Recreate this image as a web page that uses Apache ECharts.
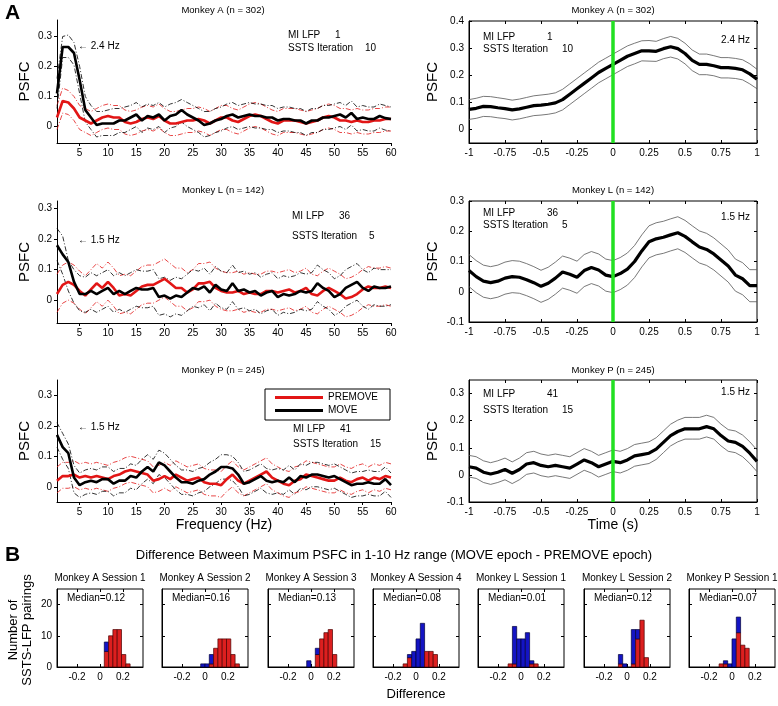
<!DOCTYPE html>
<html>
<head>
<meta charset="utf-8">
<script src="https://cdn.jsdelivr.net/npm/echarts@6/dist/echarts.min.js"></script>
<style>
  html, body { margin: 0; background: #fff; }
  #chart { width: 778px; height: 706px; }
</style>
</head>
<body>
<div id="chart"></div>
<script>
const FONT = 'Liberation Sans, Arial, Helvetica, sans-serif'

// ---- data -----------------------------------------------------------------
// frequency axis (Hz), left column
const freq = [1,2,3,4,5,6,7,8,9,10,11,12,13,14,15,16,17,18,19,20,21,22,23,24,25,26,27,28,29,30,
  31,32,33,34,35,36,37,38,39,40,41,42,43,44,45,46,47,48,49,50,51,52,53,54,55,56,57,58,59,60]
// time axis (s), right column
const time = [-1,-0.95,-0.9,-0.85,-0.8,-0.75,-0.7,-0.65,-0.6,-0.55,-0.5,-0.45,-0.4,-0.35,-0.3,-0.25,
  -0.2,-0.15,-0.1,-0.05,0,0.05,0.1,0.15,0.2,0.25,0.3,0.35,0.4,0.45,0.5,0.55,0.6,0.65,0.7,0.75,0.8,
  0.85,0.9,0.95,1]

const freqTicks = [5,10,15,20,25,30,35,40,45,50,55,60]
const psfcTicks = [0,0.1,0.2,0.3]
const timeTicks = [-1,-0.75,-0.5,-0.25,0,0.25,0.5,0.75,1]
const timeTicksA = [0,0.1,0.2,0.3,0.4]
const timeTicksLP = [-0.1,0,0.1,0.2,0.3]
const histXTicks = [-0.2,0,0.2]
const histYTicks = [0,10,20]

// Monkey A, spectrum
const aMove = [0.11,0.265,0.265,0.245,0.155,0.055,0.03,0.005,0.01,0.01,0.01,0.02,0.02,0.03,0.04,0.02,0.035,0.03,0.04,0.02,
  0.035,0.04,0.055,0.04,0.03,0.02,0.005,0.01,0.02,0.025,0.035,0.04,0.03,0.035,0.04,0.035,0.035,0.03,0.03,0.02,
  0.025,0.025,0.02,0.02,0.01,0.02,0.02,0.03,0.03,0.035,0.04,0.03,0.045,0.025,0.03,0.025,0.025,0.035,0.028,0.025]
const aMoveHi = [0.16,0.3,0.305,0.28,0.2,0.1,0.07,0.05,0.05,0.055,0.06,0.06,0.065,0.07,0.08,0.065,0.075,0.07,0.08,0.065,
  0.075,0.08,0.09,0.08,0.07,0.06,0.05,0.05,0.06,0.065,0.075,0.08,0.07,0.075,0.08,0.075,0.075,0.07,0.07,0.06,
  0.065,0.065,0.06,0.06,0.05,0.06,0.06,0.07,0.07,0.075,0.08,0.07,0.085,0.065,0.07,0.065,0.065,0.075,0.07,0.065]
const aMoveLo = [0.06,0.23,0.23,0.205,0.11,0.015,-0.01,-0.035,-0.03,-0.03,-0.03,-0.02,-0.02,-0.01,0,-0.02,-0.005,-0.01,0,-0.02,
  -0.005,0,0.015,0,-0.01,-0.02,-0.035,-0.03,-0.02,-0.015,-0.005,0,-0.01,-0.005,0,-0.005,-0.005,-0.01,-0.01,-0.02,
  -0.015,-0.015,-0.02,-0.02,-0.03,-0.02,-0.02,-0.01,-0.01,-0.005,0,-0.01,0.005,-0.015,-0.01,-0.015,-0.015,-0.005,-0.012,-0.015]
const aPre = [0.03,0.085,0.08,0.06,0.03,0.02,0.01,0.02,0.03,0.035,0.03,0.03,0.015,0.01,0.015,0.025,0.03,0.025,0.035,0.02,
  0.01,0.01,0.015,0.02,0.02,0.025,0.02,0.01,0.02,0.03,0.03,0.02,0.015,0.025,0.035,0.04,0.035,0.025,0.015,0.01,
  0.02,0.02,0.02,0.015,0.01,0.015,0.02,0.03,0.035,0.03,0.02,0.02,0.015,0.02,0.015,0.015,0.02,0.02,0.025,0.025]
const aPreHi = [0.07,0.128,0.12,0.1,0.07,0.06,0.05,0.06,0.07,0.075,0.07,0.07,0.055,0.05,0.055,0.065,0.07,0.065,0.075,0.06,
  0.05,0.05,0.055,0.06,0.06,0.065,0.06,0.05,0.06,0.07,0.07,0.06,0.055,0.065,0.075,0.08,0.075,0.065,0.055,0.05,
  0.06,0.06,0.06,0.055,0.05,0.055,0.06,0.07,0.075,0.07,0.06,0.06,0.055,0.06,0.055,0.055,0.06,0.06,0.065,0.065]
const aPreLo = [-0.01,0.045,0.04,0.02,-0.01,-0.02,-0.03,-0.02,-0.01,-0.005,-0.01,-0.01,-0.025,-0.03,-0.025,-0.015,-0.01,-0.015,-0.005,-0.02,
  -0.03,-0.03,-0.025,-0.02,-0.02,-0.015,-0.02,-0.03,-0.02,-0.01,-0.01,-0.02,-0.025,-0.015,-0.005,0,-0.005,-0.015,-0.025,-0.03,
  -0.02,-0.02,-0.02,-0.025,-0.03,-0.025,-0.02,-0.01,-0.005,-0.01,-0.02,-0.02,-0.025,-0.02,-0.025,-0.025,-0.02,-0.02,-0.015,-0.015]

// Monkey L, spectrum
const lMove = [0.18,0.15,0.125,0.06,0.02,0.02,0.03,0.02,0.03,0.04,0.02,0.03,0.02,0.03,0.04,0.035,0.035,0.04,0.01,0.015,
  0.005,0.015,0.01,0.025,0.04,0.035,0.045,0.025,0.05,0.035,0.03,0.055,0.03,0.035,0.025,0.03,0.015,0.025,0.03,0.01,
  0.02,0.015,0.02,0.03,0.025,0.03,0.055,0.04,0.03,0.01,0.02,0.04,0.05,0.06,0.04,0.03,0.045,0.04,0.04,0.045]
const lMoveHi = [0.235,0.21,0.13,0.1,0.08,0.075,0.09,0.08,0.09,0.1,0.08,0.09,0.08,0.09,0.1,0.095,0.095,0.1,0.07,0.075,
  0.065,0.075,0.07,0.085,0.1,0.095,0.105,0.085,0.11,0.095,0.09,0.115,0.09,0.095,0.085,0.09,0.075,0.085,0.09,0.07,
  0.08,0.075,0.08,0.09,0.085,0.09,0.115,0.1,0.09,0.07,0.08,0.1,0.11,0.12,0.1,0.09,0.105,0.1,0.1,0.1]
const lMoveLo = [0.13,0.085,0.03,-0.01,-0.035,-0.04,-0.03,-0.04,-0.03,-0.02,-0.04,-0.03,-0.04,-0.03,-0.02,-0.025,-0.025,-0.02,-0.05,-0.045,
  -0.055,-0.045,-0.05,-0.035,-0.02,-0.025,-0.015,-0.035,-0.01,-0.025,-0.03,-0.005,-0.03,-0.025,-0.035,-0.03,-0.045,-0.035,-0.03,-0.05,
  -0.04,-0.045,-0.04,-0.03,-0.035,-0.03,-0.005,-0.02,-0.03,-0.05,-0.04,-0.02,-0.01,0,-0.02,-0.03,-0.015,-0.02,-0.02,-0.015]
const lPre = [0.02,0.05,0.06,0.05,0.03,0.015,0.035,0.055,0.04,0.06,0.04,0.015,0.02,0.015,0.03,0.045,0.05,0.05,0.06,0.07,
  0.055,0.04,0.04,0.025,0.035,0.055,0.055,0.06,0.04,0.03,0.025,0.025,0.03,0.02,0.025,0.02,0.02,0.03,0.03,0.025,
  0.03,0.035,0.025,0.03,0.04,0.02,0.015,0.03,0.04,0.03,0.02,0.005,0.01,0.02,0.035,0.045,0.04,0.04,0.045,0.04]
const lPreHi = [0.085,0.115,0.125,0.115,0.095,0.08,0.1,0.12,0.105,0.125,0.105,0.08,0.085,0.08,0.095,0.11,0.115,0.115,0.125,0.135,
  0.12,0.105,0.105,0.09,0.1,0.12,0.12,0.125,0.105,0.095,0.09,0.09,0.095,0.085,0.09,0.085,0.085,0.095,0.095,0.09,
  0.095,0.1,0.09,0.095,0.105,0.085,0.08,0.095,0.105,0.095,0.085,0.07,0.075,0.085,0.1,0.11,0.105,0.105,0.11,0.105]
const lPreLo = [-0.04,-0.01,0,-0.01,-0.03,-0.045,-0.025,-0.005,-0.02,0,-0.02,-0.045,-0.04,-0.045,-0.03,-0.015,-0.01,-0.01,0,0.01,
  -0.005,-0.02,-0.02,-0.035,-0.025,-0.005,-0.005,0,-0.02,-0.03,-0.035,-0.035,-0.03,-0.04,-0.035,-0.04,-0.04,-0.03,-0.03,-0.035,
  -0.03,-0.025,-0.035,-0.03,-0.02,-0.04,-0.045,-0.03,-0.02,-0.03,-0.04,-0.055,-0.05,-0.04,-0.025,-0.015,-0.02,-0.02,-0.015,-0.02]

// Monkey P, spectrum
const pMove = [0.17,0.13,0.11,0.03,0.005,0.015,0.02,0.015,0.025,0.025,0.01,0.02,0.02,0.035,0.03,0.05,0.065,0.05,0.08,0.07,
  0.05,0.03,0.015,0.015,0.01,0.02,0.025,0.04,0.05,0.065,0.065,0.06,0.04,0.01,0.015,0.025,0.035,0.02,0.015,0.02,
  0.015,0.03,0.015,0.035,0.03,0.04,0.04,0.035,0.03,0.035,0.025,0.015,0.005,0.01,0.01,0.015,0.01,0.01,0.025,0.005]
const pMoveHi = [0.21,0.175,0.14,0.07,0.045,0.055,0.06,0.055,0.065,0.065,0.05,0.06,0.06,0.075,0.07,0.09,0.105,0.09,0.12,0.11,
  0.09,0.07,0.055,0.055,0.05,0.06,0.065,0.08,0.09,0.105,0.105,0.1,0.08,0.05,0.055,0.065,0.075,0.06,0.055,0.06,
  0.055,0.07,0.055,0.075,0.07,0.08,0.08,0.075,0.07,0.075,0.065,0.055,0.045,0.05,0.05,0.055,0.05,0.05,0.065,0.045]
const pMoveLo = [0.13,0.09,0.06,-0.02,-0.035,-0.025,-0.02,-0.025,-0.015,-0.015,-0.03,-0.02,-0.02,-0.005,-0.01,0.01,0.025,0.01,0.04,0.03,
  0.01,-0.01,-0.025,-0.025,-0.03,-0.02,-0.015,0,0.01,0.025,0.025,0.02,0,-0.03,-0.025,-0.015,-0.005,-0.02,-0.025,-0.02,
  -0.025,-0.01,-0.025,-0.005,-0.01,0,0,-0.005,-0.01,-0.005,-0.015,-0.025,-0.035,-0.03,-0.03,-0.025,-0.03,-0.03,-0.015,-0.035]
const pPre = [0.02,0.035,0.035,0.04,0.03,0.035,0.03,0.035,0.03,0.025,0.035,0.04,0.05,0.055,0.05,0.045,0.04,0.02,0.025,0.035,
  0.025,0.04,0.03,0.02,0.025,0.03,0.015,0.01,0.01,0.005,0.025,0.04,0.02,0.01,0.02,0.03,0.04,0.05,0.03,0.02,
  0.01,0.005,0.02,0.025,0.04,0.035,0.03,0.025,0.02,0.02,0.03,0.02,0.015,0.025,0.03,0.02,0.03,0.025,0.035,0.03]
const pPreHi = [0.065,0.08,0.08,0.085,0.075,0.08,0.075,0.08,0.075,0.07,0.08,0.085,0.095,0.1,0.095,0.09,0.085,0.065,0.07,0.08,
  0.07,0.085,0.075,0.065,0.07,0.075,0.06,0.055,0.055,0.05,0.07,0.085,0.065,0.055,0.065,0.075,0.085,0.095,0.075,0.065,
  0.055,0.05,0.065,0.07,0.085,0.08,0.075,0.07,0.065,0.065,0.075,0.065,0.06,0.07,0.075,0.065,0.075,0.07,0.08,0.075]
const pPreLo = [-0.02,-0.005,-0.005,0,-0.01,-0.005,-0.01,-0.005,-0.01,-0.015,-0.005,0,0.01,0.015,0.01,0.005,0,-0.02,-0.015,-0.005,
  -0.015,0,-0.01,-0.02,-0.015,-0.01,-0.025,-0.03,-0.03,-0.035,-0.015,0,-0.02,-0.03,-0.02,-0.01,0,0.01,-0.01,-0.02,
  -0.03,-0.035,-0.02,-0.015,0,-0.005,-0.01,-0.015,-0.02,-0.02,-0.01,-0.02,-0.025,-0.015,-0.01,-0.02,-0.01,-0.015,-0.005,-0.01]

// time courses (right column)
const rA = [0.074,0.078,0.085,0.084,0.08,0.077,0.072,0.076,0.082,0.088,0.09,0.093,0.098,0.11,0.13,0.15,0.17,0.19,0.21,0.225,
  0.24,0.255,0.27,0.28,0.29,0.29,0.288,0.298,0.305,0.298,0.28,0.255,0.24,0.24,0.235,0.228,0.228,0.225,0.22,0.205,0.185]
const rAHi = [0.11,0.115,0.122,0.121,0.117,0.113,0.108,0.112,0.118,0.124,0.127,0.13,0.135,0.148,0.168,0.188,0.208,0.228,0.248,0.263,
  0.278,0.293,0.308,0.318,0.327,0.328,0.325,0.335,0.343,0.336,0.318,0.293,0.278,0.278,0.272,0.265,0.265,0.262,0.257,0.242,0.222]
const rALo = [0.037,0.041,0.048,0.047,0.043,0.04,0.035,0.039,0.045,0.051,0.053,0.056,0.061,0.072,0.092,0.112,0.132,0.152,0.172,0.187,
  0.202,0.217,0.232,0.242,0.253,0.252,0.251,0.261,0.267,0.26,0.242,0.217,0.202,0.202,0.198,0.19,0.19,0.188,0.183,0.168,0.15]
const rL = [0.07,0.05,0.035,0.03,0.035,0.045,0.05,0.048,0.04,0.03,0.018,0.028,0.045,0.065,0.058,0.048,0.07,0.08,0.072,0.055,
  0.05,0.06,0.075,0.1,0.135,0.165,0.175,0.18,0.188,0.195,0.183,0.165,0.148,0.14,0.125,0.105,0.085,0.055,0.043,0.02,0.02]
const rLHi = [0.123,0.103,0.088,0.083,0.088,0.098,0.103,0.101,0.093,0.083,0.071,0.081,0.098,0.118,0.111,0.101,0.123,0.133,0.125,0.108,
  0.103,0.113,0.128,0.153,0.188,0.218,0.228,0.233,0.241,0.248,0.236,0.218,0.201,0.193,0.178,0.158,0.138,0.108,0.096,0.073,0.073]
const rLLo = [0.017,-0.003,-0.018,-0.023,-0.018,-0.008,-0.003,-0.005,-0.013,-0.023,-0.035,-0.025,-0.008,0.012,0.005,-0.005,0.017,0.027,0.019,0.002,
  -0.003,0.007,0.022,0.047,0.082,0.112,0.122,0.127,0.135,0.142,0.13,0.112,0.095,0.087,0.072,0.052,0.032,0.002,-0.01,-0.033,-0.033]
const rP = [0.03,0.025,0.01,0.003,0.01,0.02,0.006,0.02,0.04,0.045,0.035,0.03,0.035,0.03,0.025,0.04,0.055,0.045,0.03,0.04,
  0.05,0.045,0.055,0.07,0.075,0.08,0.095,0.12,0.145,0.16,0.17,0.17,0.17,0.178,0.17,0.145,0.125,0.12,0.105,0.08,0.05]
const rPHi = [0.072,0.067,0.052,0.045,0.052,0.062,0.048,0.062,0.082,0.087,0.077,0.072,0.077,0.072,0.067,0.082,0.097,0.087,0.072,0.082,
  0.092,0.087,0.097,0.112,0.117,0.122,0.137,0.162,0.187,0.202,0.212,0.212,0.212,0.22,0.212,0.187,0.167,0.162,0.147,0.122,0.092]
const rPLo = [-0.008,-0.013,-0.028,-0.035,-0.028,-0.018,-0.032,-0.018,0.002,0.007,-0.003,-0.008,-0.003,-0.008,-0.013,0.002,0.017,0.007,-0.008,0.002,
  0.012,0.007,0.017,0.032,0.037,0.042,0.057,0.082,0.107,0.122,0.132,0.132,0.132,0.14,0.132,0.107,0.087,0.082,0.067,0.042,0.012]

// histograms: [bin start, red (significant) count, blue count]
const binWidth = 0.0375
const histTitles = ['Monkey A Session 1','Monkey A Session 2','Monkey A Session 3','Monkey A Session 4',
  'Monkey L Session 1','Monkey L Session 2','Monkey P Session 1']
const histMedians = ['0.12','0.16','0.13','0.08','0.01','0.12','0.07']
const histA1 = [[0.0375,5,3],[0.075,10,0],[0.1125,12,0],[0.15,12,0],[0.1875,4,0],[0.225,1,0]]
const histA2 = [[-0.0375,0,1],[0,0,1],[0.0375,1,3],[0.075,6,0],[0.1125,9,0],[0.15,9,0],[0.1875,9,0],[0.225,4,0],[0.2625,1,0]]
const histA3 = [[-0.0375,0,2],[0.0375,4,2],[0.075,9,0],[0.1125,11,0],[0.15,12,0],[0.1875,4,0]]
const histA4 = [[-0.1125,1,0],[-0.075,3,1],[-0.0375,0,5],[0,0,9],[0.0375,0,14],[0.075,5,0],[0.1125,5,0],[0.15,4,0]]
const histL1 = [[-0.1125,1,0],[-0.075,1,12],[-0.0375,0,9],[0,0,9],[0.0375,0,11],[0.075,1,1],[0.1125,1,0]]
const histL2 = [[-0.075,1,3],[-0.0375,0,1],[0.0375,1,11],[0.075,9,3],[0.1125,15,0],[0.15,3,0]]
const histP1 = [[-0.1125,1,0],[-0.075,1,1],[-0.0375,0,1],[0,0,9],[0.0375,11,5],[0.075,7,0],[0.1125,6,0]]
const histData = [histA1, histA2, histA3, histA4, histL1, histL2, histP1]

// ---- chart building -------------------------------------------------------
const RED = '#e21616'
const grid = [], xAxis = [], yAxis = [], series = [], graphic = []

function text (x, y, str, size = 10, align = 'left', weight = 'normal') {
  graphic.push({
    type: 'text', x, y, silent: true,
    style: { text: str, fill: '#000', font: `${weight} ${size}px ${FONT}`, align, verticalAlign: 'middle' }
  })
}

function addPanel (box, x, y, opt) {
  const gi = grid.length
  grid.push({ left: box[0], top: box[1], width: box[2], height: box[3], show: !!opt.box,
    borderColor: '#000', borderWidth: 1, backgroundColor: 'transparent' })
  const tick = { show: true, inside: !!opt.box, length: 3, lineStyle: { color: '#000', width: 1 } }
  const label = { color: '#000', fontSize: 10, fontFamily: FONT, margin: 5 }
  const line = { show: true, onZero: false, lineStyle: { color: '#000', width: 1 } }
  const xi = xAxis.length, yi = yAxis.length
  xAxis.push({
    gridIndex: gi, type: 'value', min: x[0], max: x[1], splitLine: { show: false },
    axisLine: line, axisTick: Object.assign({ customValues: x[2] }, tick),
    axisLabel: Object.assign({ customValues: x[2] }, label),
    name: opt.xName || '', nameLocation: 'middle', nameGap: opt.xNameGap || 20,
    nameTextStyle: { color: '#000', fontSize: 14, fontFamily: FONT }
  })
  yAxis.push({
    gridIndex: gi, type: 'value', min: y[0], max: y[1], splitLine: { show: false },
    axisLine: line, axisTick: Object.assign({ customValues: y[2] }, tick),
    axisLabel: Object.assign({ customValues: y[2], show: opt.yLabels !== false }, label),
    name: opt.yName || '', nameLocation: 'middle', nameGap: opt.yNameGap || 28, nameRotate: 90,
    nameTextStyle: { color: '#000', fontSize: 15, fontFamily: FONT }
  })
  if (opt.box) {
    // mirrored ticks on the top and right edges of the box
    xAxis.push({ gridIndex: gi, type: 'value', position: 'top', min: x[0], max: x[1], splitLine: { show: false },
      axisLine: { show: false, onZero: false }, axisTick: Object.assign({ customValues: x[2] }, tick), axisLabel: { show: false } })
    yAxis.push({ gridIndex: gi, type: 'value', position: 'right', min: y[0], max: y[1], splitLine: { show: false },
      axisLine: { show: false, onZero: false }, axisTick: Object.assign({ customValues: y[2] }, tick), axisLabel: { show: false } })
  }
  return [xi, yi]
}

function line (axes, name, xs, ys, color, width, dashed, extra) {
  series.push(Object.assign({
    type: 'line', name, xAxisIndex: axes[0], yAxisIndex: axes[1],
    data: xs.map((v, i) => [v, ys[i]]),
    symbol: 'none', silent: true, animation: false, z: dashed ? 2 : 3,
    lineStyle: { color, width, type: dashed ? [5, 2, 1, 2] : 'solid' },
    itemStyle: { color }
  }, extra || {}))
}

// left column: spectra
const spectra = [
  { top: 20, h: 123, y: [-0.055, 0.355], pre: [aPre, aPreHi, aPreLo], move: [aMove, aMoveHi, aMoveLo] },
  { top: 201, h: 122, y: [-0.075, 0.325], pre: [lPre, lPreHi, lPreLo], move: [lMove, lMoveHi, lMoveLo] },
  { top: 380, h: 122, y: [-0.05, 0.35], pre: [pPre, pPreHi, pPreLo], move: [pMove, pMoveHi, pMoveLo] }
]
spectra.forEach((s, k) => {
  const ax = addPanel([57, s.top, 334, s.h], [1, 60, freqTicks], [s.y[0], s.y[1], psfcTicks],
    { yName: 'PSFC', yNameGap: 25, xName: k === 2 ? 'Frequency (Hz)' : '', xNameGap: 16 })
  line(ax, 'PREMOVE band', freq, s.pre[1], RED, 0.8, true)
  line(ax, 'PREMOVE band', freq, s.pre[2], RED, 0.8, true)
  line(ax, 'MOVE band', freq, s.move[1], '#000', 0.8, true)
  line(ax, 'MOVE band', freq, s.move[2], '#000', 0.8, true)
  line(ax, 'PREMOVE', freq, s.pre[0], RED, 2.6, false)
  line(ax, 'MOVE', freq, s.move[0], '#000', 2.6, false)
})

// right column: time courses
const courses = [
  { top: 21, h: 122, y: [-0.05, 0.4, timeTicksA], d: [rA, rAHi, rALo] },
  { top: 201, h: 121, y: [-0.1, 0.3, timeTicksLP], d: [rL, rLHi, rLLo] },
  { top: 380, h: 122, y: [-0.1, 0.35, timeTicksLP], d: [rP, rPHi, rPLo] }
]
courses.forEach((c, k) => {
  const ax = addPanel([469, c.top, 288, c.h], [-1, 1, timeTicks], c.y,
    { box: true, yName: 'PSFC', yNameGap: 29, xName: k === 2 ? 'Time (s)' : '', xNameGap: 16 })
  line(ax, 'upper', time, c.d[1], '#555', 0.8, false)
  line(ax, 'lower', time, c.d[2], '#555', 0.8, false)
  line(ax, 'mean', time, c.d[0], '#000', 3.2, false, {
    markLine: { silent: true, symbol: 'none', label: { show: false }, animation: false,
      lineStyle: { color: '#22e022', width: 3.5, type: 'solid' }, data: [{ xAxis: 0 }] }
  })
})

// bottom row: histograms
const histLefts = [57, 162, 268, 373, 478, 584, 689]
histData.forEach((d, k) => {
  const ax = addPanel([histLefts[k], 589, 86, 78], [-0.375, 0.375, histXTicks], [0, 25, histYTicks],
    { box: true, yLabels: k === 0, xName: k === 3 ? 'Difference' : '', xNameGap: 21 })
  xAxis[ax[0]].nameTextStyle.fontSize = 13
  series.push({
    type: 'custom', xAxisIndex: ax[0], yAxisIndex: ax[1], data: d, silent: true, animation: false,
    encode: { x: 0, y: 1 },
    renderItem (params, api) {
      const x0 = api.value(0), red = api.value(1), blue = api.value(2)
      const base = api.coord([x0, 0])
      const r = api.coord([x0 + binWidth, red])
      const b = api.coord([x0 + binWidth, red + blue])
      const w = r[0] - base[0]
      const children = []
      if (red > 0) children.push({ type: 'rect', shape: { x: base[0], y: r[1], width: w, height: base[1] - r[1] },
        style: { fill: '#dc1f1f', stroke: '#4a0000', lineWidth: 0.7 } })
      if (blue > 0) children.push({ type: 'rect', shape: { x: base[0], y: b[1], width: w, height: r[1] - b[1] },
        style: { fill: '#1414c4', stroke: '#00003a', lineWidth: 0.7 } })
      return { type: 'group', children }
    }
  })
  text(histLefts[k] + 43, 578, histTitles[k], 10, 'center')
  text(histLefts[k] + 10, 598, 'Median=' + histMedians[k], 10)
})

// ---- texts ----------------------------------------------------------------
text(5, 13, 'A', 21, 'left', 'bold')
text(5, 555, 'B', 21, 'left', 'bold')
;[['Monkey A (n = 302)', 10], ['Monkey L (n = 142)', 190], ['Monkey P (n = 245)', 370]].forEach(([t, y]) => {
  text(223, y, t, 9.5, 'center')
  text(613, y, t, 9.5, 'center')
})
text(78, 46, '\u2190 2.4 Hz', 10)
text(78, 240, '\u2190 1.5 Hz', 10)
text(78, 427, '\u2190 1.5 Hz', 10)
// left column labels
;[[35, 48, '1', '10', 288], [216, 236, '36', '5', 292], [429, 444, '41', '15', 293]].forEach(([y1, y2, a, b, x]) => {
  text(x, y1, 'MI LFP', 10)
  text(x + 47, y1, a, 10)
  text(x, y2, 'SSTS Iteration', 10)
  text(x + 77, y2, b, 10)
})
// right column labels
;[[37, 49, '1', '10', 40, '2.4 Hz'], [213, 225, '36', '5', 217, '1.5 Hz'], [394, 410, '41', '15', 392, '1.5 Hz']].forEach(([y1, y2, a, b, yh, hz]) => {
  text(483, y1, 'MI LFP', 10)
  text(547, y1, a, 10)
  text(483, y2, 'SSTS Iteration', 10)
  text(562, y2, b, 10)
  text(750, yh, hz, 10, 'right')
})
text(394, 555, 'Difference Between Maximum PSFC in 1-10 Hz range (MOVE epoch - PREMOVE epoch)', 13, 'center')
graphic.push({
  type: 'text', x: 20, y: 630, rotation: Math.PI / 2, silent: true,
  style: { text: 'Number of\nSSTS-LFP pairings', fill: '#000', font: `normal 13px ${FONT}`,
    align: 'center', verticalAlign: 'middle', lineHeight: 14 }
})

const chart = echarts.init(document.getElementById('chart'))
chart.setOption({
  animation: false,
  backgroundColor: '#fff',
  grid, xAxis, yAxis, series, graphic,
  legend: {
    data: [{ name: 'PREMOVE', icon: 'rect' }, { name: 'MOVE', icon: 'rect' }],
    selectedMode: false, orient: 'vertical',
    left: 265, top: 389, padding: [3, 12, 4, 10], itemGap: 2, itemWidth: 48, itemHeight: 3,
    borderColor: '#000', borderWidth: 1, borderRadius: 0, backgroundColor: '#fff',
    textStyle: { color: '#000', fontSize: 10, fontFamily: FONT, lineHeight: 11 }
  }
})
</script>
</body>
</html>
